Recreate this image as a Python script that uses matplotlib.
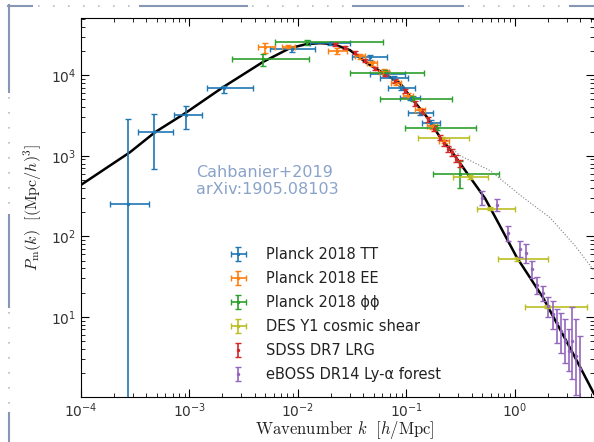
import numpy as np
import matplotlib
matplotlib.use('Agg')
import matplotlib.pyplot as plt
from matplotlib.lines import Line2D

plt.rcParams['mathtext.fontset'] = 'cm'
plt.rcParams['font.family'] = 'DejaVu Sans'

# linear theory P(k) (black) and nonlinear (dotted)
k_lin = [1.0e-4, 2.83e-4, 4.81e-4, 9.1e-4, 2.04e-3, 4.75e-3, 8.43e-3, 1.21e-2, 1.6e-2,
         2.10e-2, 3.01e-2, 4.33e-2, 7.05e-2, 8.71e-2, 0.115, 0.155, 0.204, 0.269,
         0.385, 0.530, 0.682, 1.04, 1.81, 3.43, 5.35]
P_lin = [435, 1107, 1960, 3370, 7110, 1.46e4, 2.17e4, 2.44e4, 2.5e4,
         2.44e4, 2.05e4, 1.41e4, 9460, 7980, 4900, 3010, 1700, 1070,
         541, 296, 158, 54.7, 17.4, 3.50, 1.11]
k_nl = [0.204, 0.311, 0.589, 1.19, 2.10, 3.57, 5.35]
P_nl = [1680, 1006, 655, 303, 171, 76.6, 37.5]

# Planck 2018 TT
tt_k = [2.7e-4, 4.7e-4, 9.3e-4, 2.1e-3, 8.8e-3, 0.0197, 0.0461, 0.066, 0.0767, 0.0889, 0.1076, 0.133, 0.168]
tt_klo = [1.85e-4, 3.35e-4, 7.2e-4, 1.45e-3, 5.5e-3, 0.0129, 0.0315, 0.0461, 0.057, 0.0674, 0.0871, 0.103, 0.139]
tt_khi = [4.2e-4, 7.05e-4, 1.3e-3, 3.85e-3, 1.44e-2, 0.0301, 0.066, 0.0968, 0.103, 0.1197, 0.133, 0.1754, 0.204]
tt_P = [255, 2000, 3250, 7000, 2.1e4, 2.48e4, 1.66e4, 1.05e4, 9340, 7030, 5280, 3440, 2580]
tt_Plo = [0.1, 680, 2180, 6100, 1.95e4, 2.35e4, 1.55e4, 9800, 8800, 6600, 4950, 3200, 2400]
tt_Phi = [2900, 3340, 4200, 7450, 2.25e4, 2.6e4, 1.77e4, 1.12e4, 9900, 7450, 5600, 3700, 2780]

# Planck 2018 EE
ee_k = [4.97e-3, 8.09e-3, 0.0229, 0.0372, 0.0481, 0.0621, 0.080, 0.103, 0.133, 0.172, 0.222]
ee_klo = [4.28e-3, 7.13e-3, 0.0189, 0.0332, 0.0430, 0.0555, 0.0715, 0.092, 0.119, 0.154, 0.198]
ee_khi = [6.14e-3, 9.38e-3, 0.0283, 0.0417, 0.0538, 0.0695, 0.0895, 0.115, 0.149, 0.192, 0.248]
ee_P = [2.21e4, 2.27e4, 2.0e4, 1.71e4, 1.40e4, 1.11e4, 8110, 5600, 3650, 2310, 1545]
ee_Plo = [1.91e4, 2.15e4, 1.85e4, 1.6e4, 1.3e4, 1.03e4, 7550, 5200, 3400, 2150, 1440]
ee_Phi = [2.48e4, 2.4e4, 2.15e4, 1.83e4, 1.5e4, 1.19e4, 8700, 6000, 3900, 2480, 1660]

# Planck 2018 phi-phi lensing
pp_k = [4.75e-3, 0.0121, 0.0634, 0.115, 0.191, 0.311]
pp_klo = [2.47e-3, 6.14e-3, 0.0301, 0.057, 0.0968, 0.1754]
pp_khi = [0.0126, 0.0607, 0.145, 0.262, 0.438, 0.713]
pp_P = [1.61e4, 2.55e4, 1.08e4, 5140, 2240, 601]
pp_Plo = [1.32e4, 2.4e4, 1.0e4, 4800, 2100, 403]
pp_Phi = [1.86e4, 2.7e4, 1.17e4, 5500, 2400, 872]

# DES Y1 cosmic shear
des_k = [0.212, 0.385, 0.589, 1.04, 1.97]
des_klo = [0.128, 0.268, 0.447, 0.697, 1.24]
des_khi = [0.377, 0.563, 1.0, 2.01, 4.61]
des_P = [1640, 552, 221, 52.8, 13.4]
des_Plo = [1550, 520, 210, 50, 12.7]
des_Phi = [1730, 585, 232, 55.5, 14.1]

# SDSS DR7 LRG
lrg_k = [0.0219, 0.0271, 0.0335, 0.0415, 0.0513, 0.0634, 0.0783, 0.0968, 0.120,
         0.139, 0.158, 0.179, 0.204, 0.222, 0.241, 0.262, 0.286, 0.311]
lrg_P = [2.41e4, 2.21e4, 1.91e4, 1.52e4, 1.21e4, 1.02e4, 8590, 6450, 4450,
         3540, 2820, 2180, 1680, 1460, 1230, 1100, 920, 800]
lrg_err = [1300, 1200, 1000, 800, 650, 550, 480, 380, 280,
           230, 200, 160, 130, 120, 110, 100, 90, 85]

# eBOSS DR14 Ly-alpha forest
ly_k = [0.497, 0.682, 0.861, 1.11, 1.26, 1.43, 1.60, 1.81, 2.01, 2.24, 2.44, 2.65,
        2.89, 3.15, 3.35, 3.65, 3.97]
ly_P = [303, 248, 111, 70.3, 62.7, 39.7, 25.1, 20.0, 13.8, 11.0, 8.47, 6.74,
        5.06, 3.80, 5.06, 3.30, 2.27]
ly_Plo = [248, 208, 88.5, 56, 47.1, 30.7, 19.4, 15.9, 10.0, 7.13, 4.78, 3.59,
          2.70, 2.15, 1.71, 1.08, 0.9]
ly_Phi = [370, 294, 136, 88.5, 81.1, 49.9, 31.6, 24.4, 17.8, 15.9, 12.6, 11.3,
          9.5, 7.13, 13.4, 9.5, 5.84]

W, H = 594, 442
fig = plt.figure(figsize=(W / 100, H / 100), dpi=100)
ax = fig.add_axes([81 / W, 1 - 396.7 / H, (W - 81) / W, (396.7 - 18.3) / H])

ax.plot(k_lin, P_lin, color='black', lw=1.8, zorder=2)
ax.plot(k_nl, P_nl, color='grey', lw=0.8, ls=':', zorder=2)

ebkw = dict(fmt='.', ms=3, elinewidth=1.2, capsize=2, capthick=1, zorder=3)


def xy_err(k, klo, khi, P, Plo, Phi, color, label):
    k, klo, khi = np.array(k), np.array(klo), np.array(khi)
    P, Plo, Phi = np.array(P), np.array(Plo), np.array(Phi)
    ax.errorbar(k, P, xerr=[k - klo, khi - k], yerr=[P - Plo, Phi - P],
                color=color, label=label, **ebkw)


xy_err(tt_k, tt_klo, tt_khi, tt_P, tt_Plo, tt_Phi, '#1f77b4', 'Planck 2018 TT')
xy_err(ee_k, ee_klo, ee_khi, ee_P, ee_Plo, ee_Phi, '#ff7f0e', 'Planck 2018 EE')
xy_err(pp_k, pp_klo, pp_khi, pp_P, pp_Plo, pp_Phi, '#2ca02c', 'Planck 2018 ϕϕ')
xy_err(des_k, des_klo, des_khi, des_P, des_Plo, des_Phi, '#bcbd22', 'DES Y1 cosmic shear')
ax.errorbar(lrg_k, lrg_P, yerr=lrg_err, color='#d62728', label='SDSS DR7 LRG', **ebkw)
ly_P_a = np.array(ly_P)
ax.errorbar(ly_k, ly_P, yerr=[ly_P_a - np.array(ly_Plo), np.array(ly_Phi) - ly_P_a],
            color='#9467bd', label='eBOSS DR14 Ly-α forest', **ebkw)

ax.set_xscale('log')
ax.set_yscale('log')
ax.set_xlim(1e-4, 5.35)
ax.set_ylim(1.02, 5.09e4)
ax.set_yticks([10, 100, 1e3, 1e4])
ax.tick_params(which='both', direction='in', top=True, right=True,
               labelsize=10, labelcolor='#333333')
ax.tick_params(which='major', length=6)
ax.tick_params(which='minor', length=3)
ax.spines['right'].set_visible(False)

ax.set_xlabel(r'$\mathrm{Wavenumber}\ k\ \ [h/\mathrm{Mpc}]$', fontsize=12, color='#222222')
ax.xaxis.set_label_coords(0.5 + 7 / (W - 81), -22.5 / 378.4)
ax.set_ylabel(r'$P_{\rm m}(k)\ \ [({\rm Mpc}/h)^3]$', fontsize=11.5, color='#222222')
ax.yaxis.set_label_coords(-37 / (W - 81), 0.5)

ax.text(196 / W, 1 - 181 / H, 'Cahbanier+2019\narXiv:1905.08103', transform=fig.transFigure,
        fontsize=11.5, color='#8aa3c9', va='center', ha='left', linespacing=1.15)

ax.legend(loc='upper left', bbox_to_anchor=(229 / W, 1 - 247 / H), bbox_transform=fig.transFigure,
          frameon=False, fontsize=10.5, borderpad=0, borderaxespad=0, labelspacing=0.62,
          handlelength=1.3, handletextpad=1.25, labelcolor='#222222')

# slide border decoration
solid_c, dot_c = '#8796b4', '#b4bccb'
for x0, x1 in [(8, 32), (140, 247), (353, 463), (570, 594)]:
    fig.add_artist(Line2D([x0 / W, x1 / W], [1 - 5.5 / H] * 2, color=solid_c, lw=1.5))
for x0, x1 in [(38, 136), (252, 350), (468, 567)]:
    fig.add_artist(Line2D([x0 / W, x1 / W], [1 - 5.5 / H] * 2, color=dot_c, lw=1.2, ls=(0, (1, 8))))
for y0, y1 in [(5, 92), (215, 307), (413, 442)]:
    fig.add_artist(Line2D([8.5 / W] * 2, [1 - y0 / H, 1 - y1 / H], color=solid_c, lw=1.5))
for y0, y1 in [(97, 212), (312, 410)]:
    fig.add_artist(Line2D([8.5 / W] * 2, [1 - y0 / H, 1 - y1 / H], color=dot_c, lw=1.2, ls=(0, (1, 8))))

fig.savefig('out.png', dpi=100)
